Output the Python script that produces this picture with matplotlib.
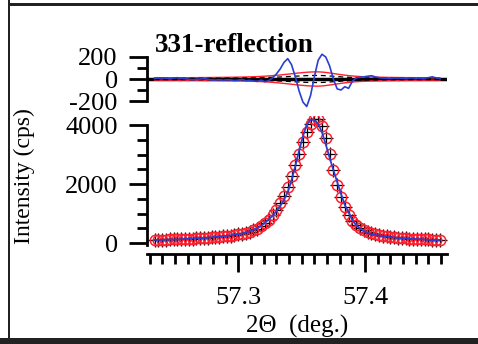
import numpy as np
import matplotlib.pyplot as plt
from matplotlib.patches import Rectangle

plt.rcParams['font.family'] = ['Liberation Serif', 'DejaVu Serif']

# 2theta scan (deg.)
two_theta = [
  57.234, 57.237, 57.240, 57.243, 57.246, 57.249, 57.252, 57.255, 57.258, 57.261,
  57.264, 57.267, 57.270, 57.273, 57.276, 57.279, 57.282, 57.285, 57.288, 57.291,
  57.294, 57.297, 57.300, 57.303, 57.306, 57.309, 57.312, 57.315, 57.318, 57.321,
  57.324, 57.327, 57.330, 57.333, 57.336, 57.339, 57.342, 57.345, 57.348, 57.351,
  57.354, 57.357, 57.360, 57.363, 57.366, 57.369, 57.372, 57.375, 57.378, 57.381,
  57.384, 57.387, 57.390, 57.393, 57.396, 57.399, 57.402, 57.405, 57.408, 57.411,
  57.414, 57.417, 57.420, 57.423, 57.426, 57.429, 57.432, 57.435, 57.438, 57.441,
  57.444, 57.447, 57.450, 57.453, 57.456, 57.459]

# observed intensity (cps)
i_obs = [
  110, 113, 116, 119, 123, 127, 131, 135, 140, 145,
  151, 157, 164, 171, 179, 188, 198, 209, 222, 236,
  251, 270, 291, 316, 347, 385, 432, 491, 566, 662,
  784, 933, 1118, 1342, 1608, 1915, 2259, 2634, 3025, 3410,
  3759, 4034, 4197, 4214, 3983, 3547, 3015, 2476, 1983, 1563,
  1222, 958, 759, 612, 506, 429, 371, 328, 294, 266,
  243, 224, 207, 193, 181, 170, 160, 152, 144, 137,
  131, 126, 121, 116, 112, 109]

# residual obs - calc (cps)
resid = [
  5, 8, 10, 6, 4, 8, 12, 6, 2, -3,
  -6, -4, 0, 3, -2, -8, -10, -5, -12, -6,
  -8, -14, -10, -4, -16, -12, -18, -22, -10, -25,
  -15, 10, 45, 90, 150, 185, 130, 20, -110, -210,
  -250, -150, 20, 170, 225, 200, 120, 0, -90, -100,
  -70, -85, -20, 10, 15, 20, 25, 30, 20, 12,
  8, 6, 4, 8, 10, 6, 5, 8, 10, 6,
  4, 8, 12, 20, 10, 5]

x = np.array(two_theta)
obs = np.array(i_obs, dtype=float)
res = np.array(resid, dtype=float)
calc = obs - res
sig = np.sqrt(obs)

red = '#ff1f2e'
blue = '#2a3fd0'
tick_fs = 19

fig = plt.figure(figsize=(4.78, 3.44), dpi=100)

# frame around the picture
fig.add_artist(Rectangle((8/478, 0), 2/478, 1, transform=fig.transFigure, color='#222222', lw=0))
fig.add_artist(Rectangle((8/478, 1-6/344), 1, 3/344, transform=fig.transFigure, color='#222222', lw=0))
fig.add_artist(Rectangle((0, 0), 1, 6/344, transform=fig.transFigure, color='#222222', lw=0))

xl = (57.228, 57.4646)

# ---- residual panel
ax1 = fig.add_axes([0.3075, 0.6744, 0.6276, 0.1759])
ax1.axhline(0, color='black', lw=2.5, zorder=1)
ax1.plot(x, sig, color=red, lw=1)
ax1.plot(x, -sig, color=red, lw=1)
ax1.plot(x, 0.5*sig, 'k--', lw=0.9, dashes=(4, 3))
ax1.plot(x, -0.5*sig, 'k--', lw=0.9, dashes=(4, 3))
ax1.plot(x, res, color=blue, lw=1.2, zorder=3)
ax1.set_xlim(*xl)
ax1.set_ylim(-300, 250)
for s in ['top', 'right', 'bottom']:
  ax1.spines[s].set_visible(False)
ax1.spines['left'].set_bounds(-200, 200)
ax1.spines['left'].set_linewidth(2)
ax1.set_yticks([-200, 0, 200])
ax1.set_yticklabels(['-200', '0', '200'])
ax1.set_yticks([-100, 100], minor=True)
ax1.tick_params(axis='y', which='major', length=13, width=2, labelsize=tick_fs, pad=8)
ax1.tick_params(axis='y', which='minor', length=7, width=2)
ax1.set_xticks([])
ax1.patch.set_alpha(0)

# ---- intensity panel
ax2 = fig.add_axes([0.3075, 0.2616, 0.6276, 0.4006])
ax2.plot(x, obs, ls='none', marker='+', ms=10, mew=0.9, color='black', zorder=2)
ax2.plot(x, obs, ls='none', marker='o', ms=7.5, mfc='none', mec=red, mew=1.1, zorder=3)
ax2.plot(x, calc, color=blue, lw=1.3, zorder=4)
ax2.set_xlim(*xl)
ax2.set_ylim(-373, 4300)
for s in ['top', 'right']:
  ax2.spines[s].set_visible(False)
ax2.spines['left'].set_bounds(-70, 4000)
ax2.spines['left'].set_linewidth(2)
ax2.spines['bottom'].set_linewidth(2)
ax2.set_yticks([0, 2000, 4000])
ax2.set_yticks(np.arange(500, 4000, 500), minor=True)
ax2.set_xticks([57.3, 57.4])
ax2.set_xticks(np.arange(57.23, 57.465, 0.01), minor=True)
ax2.tick_params(axis='y', which='major', length=13, width=2, labelsize=tick_fs, pad=8)
ax2.tick_params(axis='y', which='minor', length=7, width=2)
ax2.tick_params(axis='x', which='major', length=13, width=2, labelsize=tick_fs, pad=11)
ax2.tick_params(axis='x', which='minor', length=7, width=2)

fig.text(0.324, 1-45/344, '331-reflection', fontsize=19.5, fontweight='bold', va='center', ha='left')
fig.text(297/478, 1-326/344, '2\u0398  (deg.)', fontsize=18, ha='center', va='center')
fig.text(24/478, 1-176/344, 'Intensity (cps)', fontsize=17, rotation=90, ha='center', va='center')

fig.savefig('out.png', dpi=100)
